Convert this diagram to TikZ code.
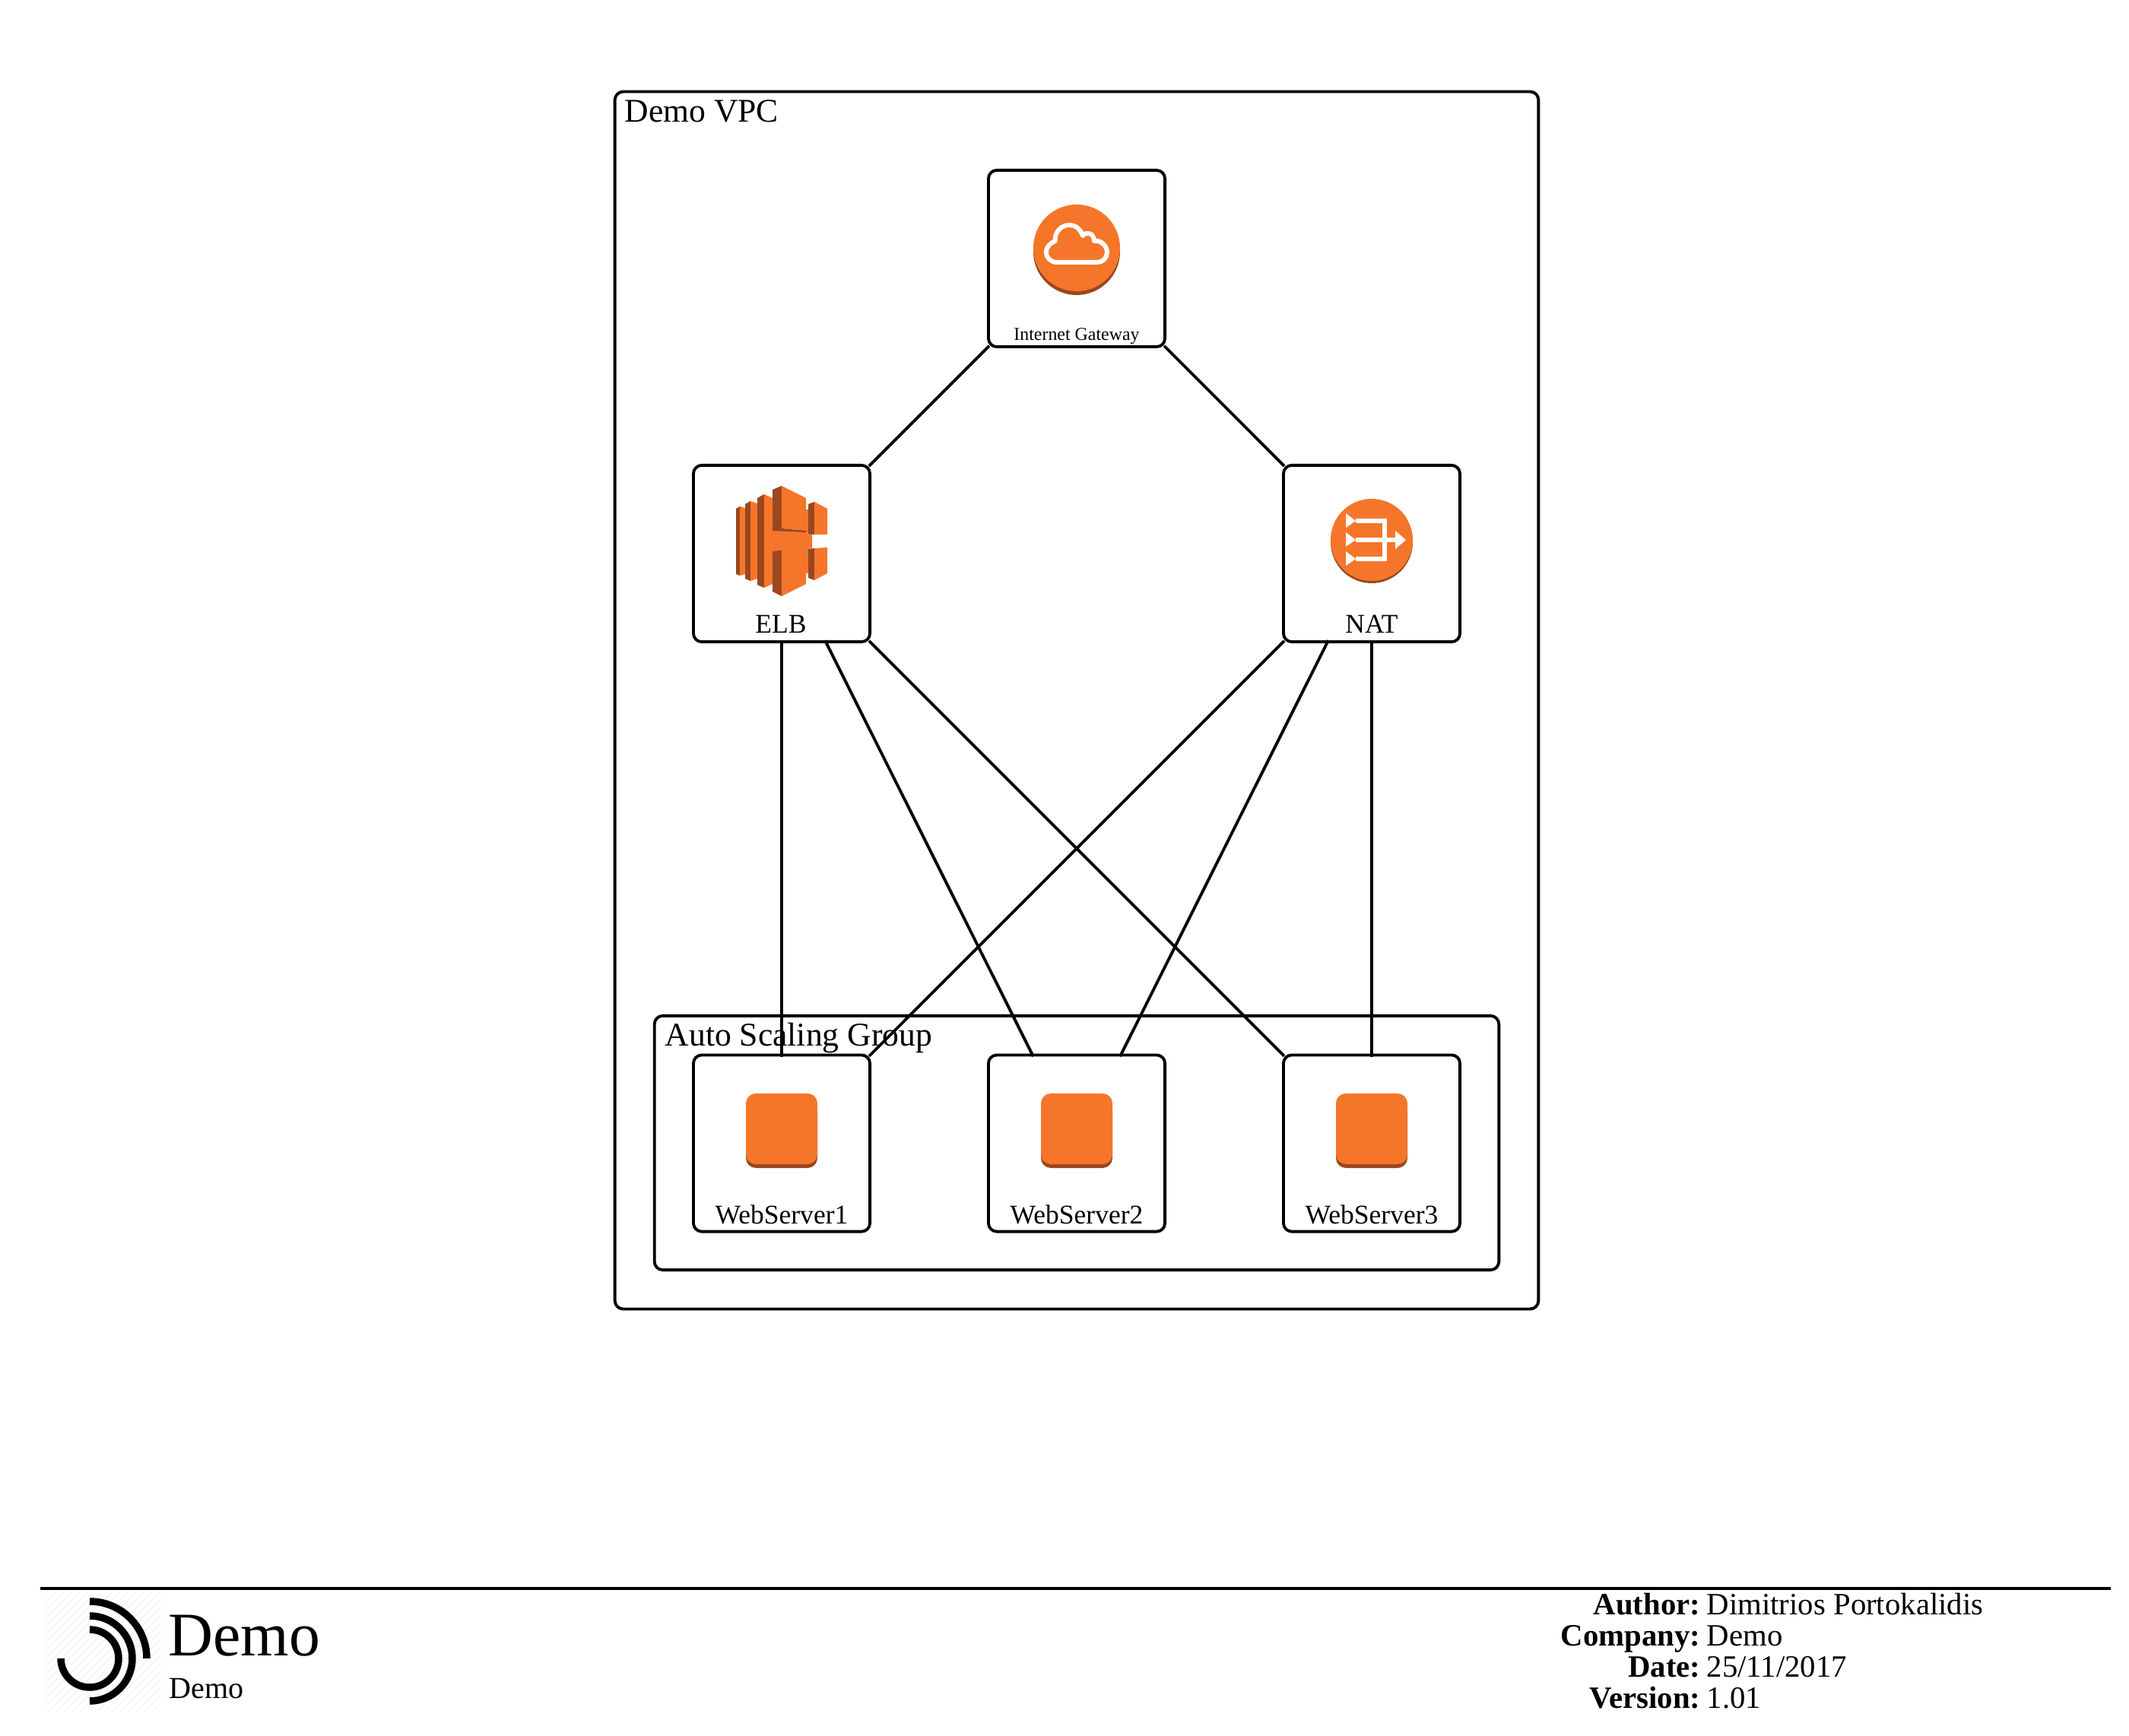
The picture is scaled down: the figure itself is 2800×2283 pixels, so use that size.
\documentclass[tikz,border=0pt]{standalone}
\usepackage{fontspec}
\setmainfont{Liberation Serif}
\usetikzlibrary{patterns}
\definecolor{awsorange}{HTML}{F5762A}
\definecolor{awsdark}{HTML}{9A471F}
\tikzset{
    groupbox/.style={draw, line width=1.1pt, rounded corners=0.11cm, inner sep=0pt},
    iconbox/.style={draw, line width=1.1pt, rounded corners=0.11cm, inner sep=0pt, minimum size=2.32cm},
    link/.style={line width=1.1pt, shorten >=-1.2pt, shorten <=-1.2pt},
    boxtext/.style={anchor=base, inner sep=0pt, font=\fontsize{10.1}{12}\selectfont},
    grouptext/.style={anchor=base west, inner sep=0pt, font=\fontsize{12.4}{15}\selectfont},
    foottext/.style={inner sep=0pt, font=\fontsize{11.6}{14}\selectfont},
    whiteline/.style={draw=white, line width=1.7pt}
}
\begin{document}
\begin{tikzpicture}[x=0.01cm, y=-0.01cm]
        \useasboundingbox (0,0) rectangle (2800,2283);

        % Setup the groups
        \node[groupbox, minimum width=12.14cm, minimum height=16.00cm] (vpc) at (1416,921) {};
        \node[grouptext] (vpctext) at (821,161) {Demo VPC};
        \node[groupbox, minimum width=11.10cm, minimum height=3.34cm] (asg) at (1416,1503) {};
        \node[grouptext] (asgtext) at (874,1375) {Auto Scaling Group};

        % The boxes
        \node[iconbox] (igw) at (1416,340) {};
        \node[iconbox] (elb) at (1028,728) {};
        \node[iconbox] (nat) at (1804,728) {};
        \node[iconbox] (web1) at (1028,1503.5) {};
        \node[iconbox] (web2) at (1416,1503.5) {};
        \node[iconbox] (web3) at (1804,1503.5) {};

        \node[boxtext, font=\fontsize{6.8}{8}\selectfont] (igwtext) at (1416,448) {Internet Gateway};
        \node[boxtext] (elbtext) at (1027,833) {ELB};
        \node[boxtext] (nattext) at (1804,833) {NAT};
        \node[boxtext] (web1text) at (1028,1609) {WebServer1};
        \node[boxtext] (web2text) at (1416,1609) {WebServer2};
        \node[boxtext] (web3text) at (1804,1609) {WebServer3};

        % Connections
        \draw[link] (igw) -- (elb);
        \draw[link] (igw) -- (nat);
        \draw[link] (elb) -- (web1);
        \draw[link] (elb) -- (web2);
        \draw[link] (elb) -- (web3);
        \draw[link] (nat) -- (web1);
        \draw[link] (nat) -- (web2);
        \draw[link] (nat) -- (web3);

        % Internet gateway icon
        \fill[awsdark] (1416,331) circle (57);
        \fill[awsorange] (1416,326) circle (57);
        \draw[whiteline, line join=round]
            (1390,345) to[out=180, in=270] (1376,332) to[out=90, in=200] (1388,317)
            to[out=100, in=180] (1406,296) to[out=0, in=110] (1424,310)
            to[out=60, in=170] (1432,307) to[out=-10, in=90] (1439,317)
            to[out=10, in=90] (1456,332) to[out=270, in=0] (1443,345) -- cycle;

        % ELB icon
        \fill[awsdark] (968,669) -- (973,666) -- (973,757) -- (968,755) -- cycle;
        \fill[awsorange] (973,666) -- (980,668) -- (980,755) -- (973,757) -- cycle;
        \fill[awsdark] (980,663) -- (987,659) -- (987,764) -- (980,761) -- cycle;
        \fill[awsorange] (987,659) -- (996,662) -- (996,761) -- (987,764) -- cycle;
        \fill[awsdark] (996,655) -- (1005,650) -- (1005,773) -- (996,769) -- cycle;
        \fill[awsorange] (1005,650) -- (1016,655) -- (1016,768) -- (1005,773) -- cycle;
        \fill[awsorange] (1005,697) -- (1068,697) -- (1068,721) -- (1028,725) -- (1005,725) -- cycle;
        \fill[awsorange] (1060,670) rectangle (1064,754);
        \fill[awsdark] (1016,644) -- (1028,639) -- (1028,697) -- (1016,698) -- cycle;
        \fill[awsorange] (1028,639) -- (1060,655) -- (1060,698) -- (1028,695) -- cycle;
        \fill[awsdark] (1016,698) -- (1028,695) -- (1060,698) -- (1060,700) -- cycle;
        \fill[awsdark] (1016,725) -- (1028,724) -- (1028,784) -- (1016,778) -- cycle;
        \fill[awsorange] (1028,720) -- (1060,720) -- (1060,768) -- (1028,784) -- cycle;
        \fill[awsdark] (1063,663) -- (1071,660) -- (1071,703) -- (1063,702) -- cycle;
        \fill[awsorange] (1071,660) -- (1088,669) -- (1088,703) -- (1071,703) -- cycle;
        \fill[awsdark] (1063,722) -- (1071,721) -- (1071,763) -- (1063,760) -- cycle;
        \fill[awsorange] (1071,721) -- (1088,720) -- (1088,754) -- (1071,763) -- cycle;

        % NAT icon
        \fill[awsdark] (1804,713) circle (54);
        \fill[awsorange] (1804,710) circle (54);
        \draw[whiteline] (1783,685) -- (1821,685) -- (1821,735) -- (1783,735);
        \draw[whiteline] (1783,710) -- (1835,710);
        \fill[white] (1770,675) -- (1783,685) -- (1770,694) -- cycle;
        \fill[white] (1770,700) -- (1783,710) -- (1770,719) -- cycle;
        \fill[white] (1770,725) -- (1783,735) -- (1770,744) -- cycle;
        \fill[white] (1835,698) -- (1849,710) -- (1835,722) -- cycle;

        % Instance icons
        \fill[awsdark, rounded corners=0.13cm] (981,1450) rectangle (1075,1536);
        \fill[awsorange, rounded corners=0.13cm] (981,1438) rectangle (1075,1531);

        \fill[awsdark, rounded corners=0.13cm] (1369,1450) rectangle (1463,1536);
        \fill[awsorange, rounded corners=0.13cm] (1369,1438) rectangle (1463,1531);

        \fill[awsdark, rounded corners=0.13cm] (1757,1450) rectangle (1851,1536);
        \fill[awsorange, rounded corners=0.13cm] (1757,1438) rectangle (1851,1531);

        % Footer
        \coordinate (footleft) at (53,2089);
        \coordinate (footright) at (2776,2089);
        \draw[line width=1.1pt] (footleft) -- (footright);

        \fill[pattern=north east lines, pattern color=black!4] (60,2095) rectangle (212,2248);
        \draw[line width=2.7pt] (118,2106) arc[start angle=-90, end angle=0, radius=75];
        \draw[line width=2.7pt] (118,2125) arc[start angle=-90, end angle=90, radius=56];
        \draw[line width=2.7pt] (118,2143) arc[start angle=-90, end angle=180, radius=38];

        \node[anchor=base west, inner sep=0pt, font=\fontsize{23.2}{27}\selectfont] (title) at (221,2177) {Demo};
        \node[anchor=base west, foottext, font=\fontsize{11.4}{14}\selectfont] (subtitle) at (222,2233) {Demo};

        \node[anchor=base east, foottext] (authorkey) at (2237,2123) {\bfseries Author:};
        \node[anchor=base west, foottext] (authorval) at (2244,2123) {Dimitrios Portokalidis};
        \node[anchor=base east, foottext] (companykey) at (2237,2164) {\bfseries Company:};
        \node[anchor=base west, foottext] (companyval) at (2244,2164) {Demo};
        \node[anchor=base east, foottext] (datekey) at (2237,2205) {\bfseries Date:};
        \node[anchor=base west, foottext] (dateval) at (2244,2205) {25/11/2017};
        \node[anchor=base east, foottext] (versionkey) at (2237,2246) {\bfseries Version:};
        \node[anchor=base west, foottext] (versionval) at (2244,2246) {1.01};
    \end{tikzpicture}
\end{document}
